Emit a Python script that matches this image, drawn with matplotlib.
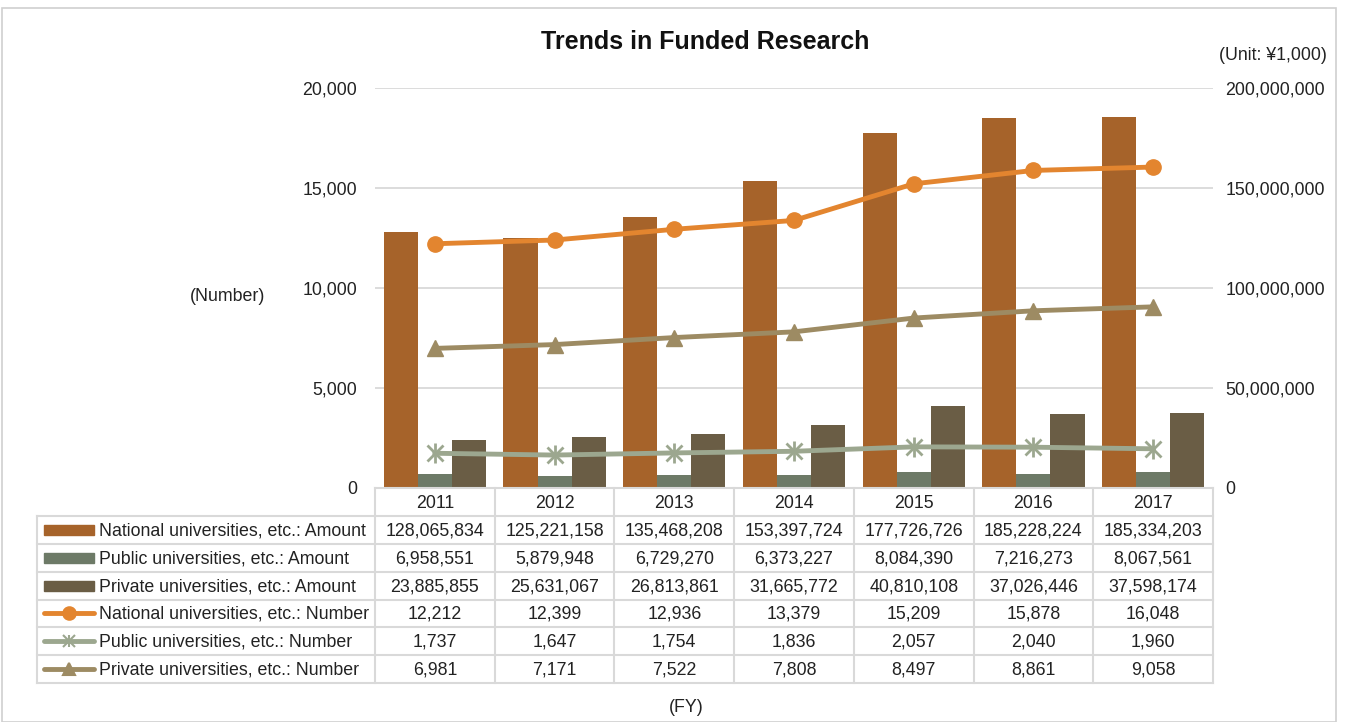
import numpy as np
import matplotlib.pyplot as plt
from matplotlib.patches import Rectangle

plt.rcParams['font.family'] = ['Liberation Sans', 'DejaVu Sans']

years = ['2011', '2012', '2013', '2014', '2015', '2016', '2017']
nat_amount = [128065834, 125221158, 135468208, 153397724, 177726726, 185228224, 185334203]
pub_amount = [6958551, 5879948, 6729270, 6373227, 8084390, 7216273, 8067561]
pri_amount = [23885855, 25631067, 26813861, 31665772, 40810108, 37026446, 37598174]
nat_number = [12212, 12399, 12936, 13379, 15209, 15878, 16048]
pub_number = [1737, 1647, 1754, 1836, 2057, 2040, 1960]
pri_number = [6981, 7171, 7522, 7808, 8497, 8861, 9058]

c_nat_bar = '#A6632A'
c_pub_bar = '#6D7A67'
c_pri_bar = '#6A5D45'
c_nat_line = '#E3852F'
c_pub_line = '#9CA78F'
c_pri_line = '#9D8B63'
grid_c = '#D9D9D9'
txt_c = '#222222'
fs = 12.8

W, H = 1346, 722
fig = plt.figure(figsize=(W / 100, H / 100), dpi=100)

def box(x0, y0, x1, y1):
    # pixel box (top-left origin) -> figure fraction rect
    return [x0 / W, 1 - y1 / H, (x1 - x0) / W, (y1 - y0) / H]

# outer frame
fig.patches.append(Rectangle((2 / W, 0), 1334 / W, 1 - 8 / H, transform=fig.transFigure,
                             fill=False, edgecolor='#D0D0D0', lw=1.2))

px0, px1, py0, py1 = 375, 1213, 88, 488
ax2 = fig.add_axes(box(px0, py0, px1, py1))   # amounts (right)
ax = fig.add_axes(box(px0, py0, px1, py1), sharex=ax2)  # numbers (left)
ax.set_zorder(ax2.get_zorder() + 1)
ax.patch.set_visible(False)

x = np.arange(len(years))
bw = 0.285
ax2.bar(x - bw, nat_amount, bw, color=c_nat_bar, zorder=3)
ax2.bar(x, pub_amount, bw, color=c_pub_bar, zorder=3)
ax2.bar(x + bw, pri_amount, bw, color=c_pri_bar, zorder=3)
ax2.set_ylim(0, 200000000)
ax2.set_yticks(np.arange(0, 200000001, 50000000))
ax2.yaxis.tick_right()
ax2.set_yticklabels([f'{v:,}' for v in range(0, 200000001, 50000000)], ha='left')
ax2.tick_params(axis='y', length=0, pad=9, labelsize=fs, colors=txt_c)
ax2.grid(axis='y', color=grid_c, lw=1.3, zorder=0)
ax2.set_axisbelow(True)

ax.plot(x, nat_number, color=c_nat_line, lw=3.5, marker='o', ms=11, zorder=5)
ax.plot(x, pub_number, color=c_pub_line, lw=3.5, zorder=5)
ax.plot(x, pub_number, ls='none', marker='x', ms=11, mew=2, mec=c_pub_line, zorder=6)
ax.plot(x, pub_number, ls='none', marker='|', ms=14, mew=2, mec=c_pub_line, zorder=6)
ax.plot(x, pri_number, color=c_pri_line, lw=3.5, marker='^', ms=12, zorder=5)
ax.set_ylim(0, 20000)
ax.set_yticks(range(0, 20001, 5000))
ax.set_yticklabels([f'{v:,}' for v in range(0, 20001, 5000)])
ax.tick_params(axis='y', length=0, pad=13, labelsize=fs, colors=txt_c)
ax.set_xlim(-0.5, len(years) - 0.5)
ax.tick_params(axis='x', bottom=False, labelbottom=False)
ax2.tick_params(axis='x', bottom=False, labelbottom=False)
for a in (ax, ax2):
    for s in a.spines.values():
        s.set_visible(False)

fig.text(705 / W, 1 - 42 / H, 'Trends in Funded Research', ha='center', va='center',
         fontsize=18, fontweight='bold', color='#111111')
fig.text(1327 / W, 1 - 55 / H, '(Unit: ¥1,000)', ha='right', va='center', fontsize=fs, color=txt_c)
fig.text(228 / W, 1 - 297 / H, '(Number)', ha='center', va='center', fontsize=fs, color=txt_c)
fig.text(686 / W, 1 - 708 / H, '(FY)', ha='center', va='center', fontsize=fs, color=txt_c)

# data table drawn in pixel coordinates of its own axes
tx0, ty0, ty1 = 37, 488, 683
tax = fig.add_axes(box(tx0, ty0, px1, ty1))
tax.set_xlim(tx0, px1)
tax.set_ylim(ty1, ty0)
tax.axis('off')
colw = (px1 - px0) / len(years)
rowh = (ty1 - 516) / 6
hdr_b = 516

tab_lw = 1.5
tax.plot([px0, px1], [ty0, ty0], color=grid_c, lw=tab_lw, clip_on=False)
for i in range(len(years) + 1):
    xc = px0 + i * colw
    tax.plot([xc, xc], [ty0, ty1], color=grid_c, lw=tab_lw, clip_on=False)
tax.plot([tx0, tx0], [hdr_b, ty1], color=grid_c, lw=tab_lw, clip_on=False)
for r in range(7):
    yy = hdr_b + r * rowh
    tax.plot([tx0, px1], [yy, yy], color=grid_c, lw=tab_lw, clip_on=False)
for i, yr in enumerate(years):
    tax.text(px0 + (i + 0.5) * colw, (ty0 + hdr_b) / 2 + 1, yr, ha='center', va='center',
             fontsize=fs, color=txt_c)

rows = [
    ('National universities, etc.: Amount', nat_amount, 'bar', c_nat_bar, None),
    ('Public universities, etc.: Amount', pub_amount, 'bar', c_pub_bar, None),
    ('Private universities, etc.: Amount', pri_amount, 'bar', c_pri_bar, None),
    ('National universities, etc.: Number', nat_number, 'line', c_nat_line, ['o']),
    ('Public universities, etc.: Number', pub_number, 'line', c_pub_line, ['x', '|']),
    ('Private universities, etc.: Number', pri_number, 'line', c_pri_line, ['^']),
]
for r, (label, vals, kind, col, mks) in enumerate(rows):
    yc = hdr_b + (r + 0.5) * rowh
    if kind == 'bar':
        tax.add_patch(Rectangle((44, yc - 5), 50, 10, color=col))
    else:
        tax.plot([44, 94], [yc, yc], color=col, lw=3.5, solid_capstyle='round')
        for mk in mks:
            tax.plot([69], [yc], color=col, marker=mk, ms=9, mew=1.5, mec=col)
    tax.text(99, yc + 1, label, ha='left', va='center', fontsize=fs, color=txt_c)
    for i, v in enumerate(vals):
        tax.text(px0 + (i + 0.5) * colw, yc + 1, f'{v:,}', ha='center', va='center',
                 fontsize=fs, color=txt_c)

fig.savefig('out.png', dpi=100)
